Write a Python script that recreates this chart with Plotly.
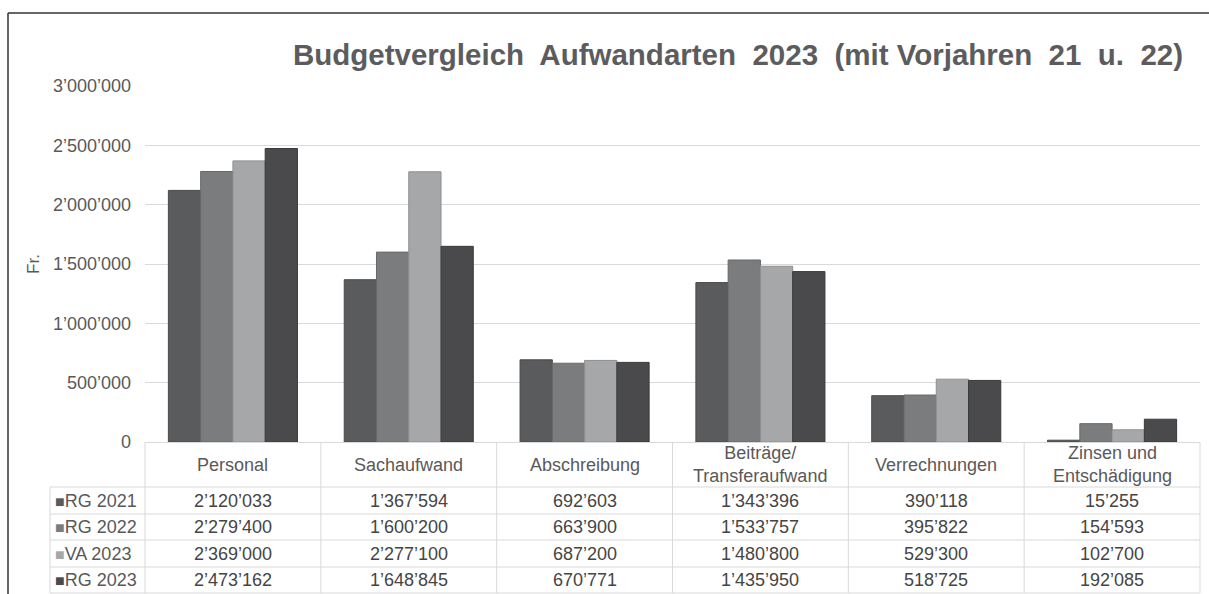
import plotly.graph_objects as go

categories = ["Personal", "Sachaufwand", "Abschreibung", "Beiträge/<br>Transferaufwand",
              "Verrechnungen", "Zinsen und<br>Entschädigung"]
series_names = ["RG 2021", "RG 2022", "VA 2023", "RG 2023"]
rg2021 = [2120033, 1367594, 692603, 1343396, 390118, 15255]
rg2022 = [2279400, 1600200, 663900, 1533757, 395822, 154593]
va2023 = [2369000, 2277100, 687200, 1480800, 529300, 102700]
rg2023 = [2473162, 1648845, 670771, 1435950, 518725, 192085]
series_values = [rg2021, rg2022, va2023, rg2023]
tick_vals = [0, 500000, 1000000, 1500000, 2000000, 2500000, 3000000]
tick_text = ["0", "500’000", "1’000’000", "1’500’000", "2’000’000", "2’500’000", "3’000’000"]

colors = ["#5a5b5d", "#7b7c7e", "#a6a7a9", "#4a4a4c"]
edge = ["#48494b", "#67686a", "#8e8f91", "#3a3a3c"]

W, H = 1209, 594
ML, MR, MT, MB = 145, 9, 86, 152
PW, PH = W - ML - MR, H - MT - MB


def px(x):
    return (x - ML) / PW


def py(y):
    return (H - MB - y) / PH


def fmt(v):
    return f"{v:,}".replace(",", "’")


fig = go.Figure()
for name, vals, c, e in zip(series_names, series_values, colors, edge):
    fig.add_trace(go.Bar(x=categories, y=vals, name=name,
                         marker=dict(color=c, line=dict(color=e, width=1))))

font_fam = "Liberation Sans, Arial, sans-serif"
grid_c = "#d9d9d9"
text_c = "#595959"
FS = 18

shapes = []
annotations = []

# table horizontal lines
row_lines = [487, 514, 540, 567, 593]
for yl in row_lines:
    shapes.append(dict(type="line", xref="paper", yref="paper", x0=px(50), x1=px(1200),
                       y0=py(yl), y1=py(yl), line=dict(color=grid_c, width=1)))
# vertical lines at category boundaries
n = len(categories)
for i in range(n + 1):
    xv = px(ML + PW * i / n)
    shapes.append(dict(type="line", xref="paper", yref="paper", x0=xv, x1=xv,
                       y0=py(442), y1=py(593), line=dict(color=grid_c, width=1)))
shapes.append(dict(type="line", xref="paper", yref="paper", x0=px(50), x1=px(50),
                   y0=py(487), y1=py(593), line=dict(color=grid_c, width=1)))
# outer frame
shapes.append(dict(type="line", xref="paper", yref="paper", x0=px(8), x1=px(1215),
                   y0=py(13), y1=py(13), line=dict(color="#333333", width=1.5)))
shapes.append(dict(type="line", xref="paper", yref="paper", x0=px(8), x1=px(8),
                   y0=py(13), y1=py(600), line=dict(color="#333333", width=1.5)))

# header labels
for cat in categories:
    annotations.append(dict(x=cat, xref="x", y=py(464.5), yref="paper", text=cat,
                            showarrow=False, font=dict(family=font_fam, size=FS, color=text_c),
                            xanchor="center", yanchor="middle"))
row_centers = [500.5, 527, 553.5, 580]
for name, vals, c, yc in zip(series_names, series_values, colors, row_centers):
    annotations.append(dict(x=px(53), xref="paper", y=py(yc), yref="paper",
                            text=f"<span style='color:{c};font-size:16px'>■</span>{name}",
                            showarrow=False, font=dict(family=font_fam, size=FS, color=text_c),
                            xanchor="left", yanchor="middle"))
    for cat, v in zip(categories, vals):
        annotations.append(dict(x=cat, xref="x", y=py(yc), yref="paper", text=fmt(v),
                                showarrow=False, font=dict(family=font_fam, size=FS, color="#454545"),
                                xanchor="center", yanchor="middle"))

fig.update_layout(
    width=W, height=H,
    margin=dict(l=ML, r=MR, t=MT, b=MB),
    paper_bgcolor="white", plot_bgcolor="white",
    showlegend=False,
    barmode="group", bargap=0.266, bargroupgap=0,
    title=dict(text="<b>Budgetvergleich  Aufwandarten  2023  (mit Vorjahren  21  u.  22)</b>",
               x=738 / W, xanchor="center", y=1 - 55 / H, yanchor="middle", yref="container",
               font=dict(family=font_fam, size=29.5, color="#5c5c5e")),
    font=dict(family=font_fam, size=FS, color=text_c),
    shapes=shapes,
    annotations=annotations,
)
fig.update_xaxes(showticklabels=False, showline=True, linecolor=grid_c, linewidth=1,
                 ticks="", range=[-0.5, n - 0.5])
fig.update_yaxes(range=[0, 3000000], tickvals=tick_vals, ticktext=tick_text,
                 showgrid=True, gridcolor=grid_c, gridwidth=1, zeroline=False,
                 ticklabelstandoff=13,
                 tickfont=dict(family=font_fam, size=FS, color=text_c),
                 title=dict(text="Fr.", standoff=8,
                            font=dict(family=font_fam, size=17, color=text_c)))

fig.write_html("out.html", config={"displayModeBar": False},
               post_script="document.body.style.margin='0';")
